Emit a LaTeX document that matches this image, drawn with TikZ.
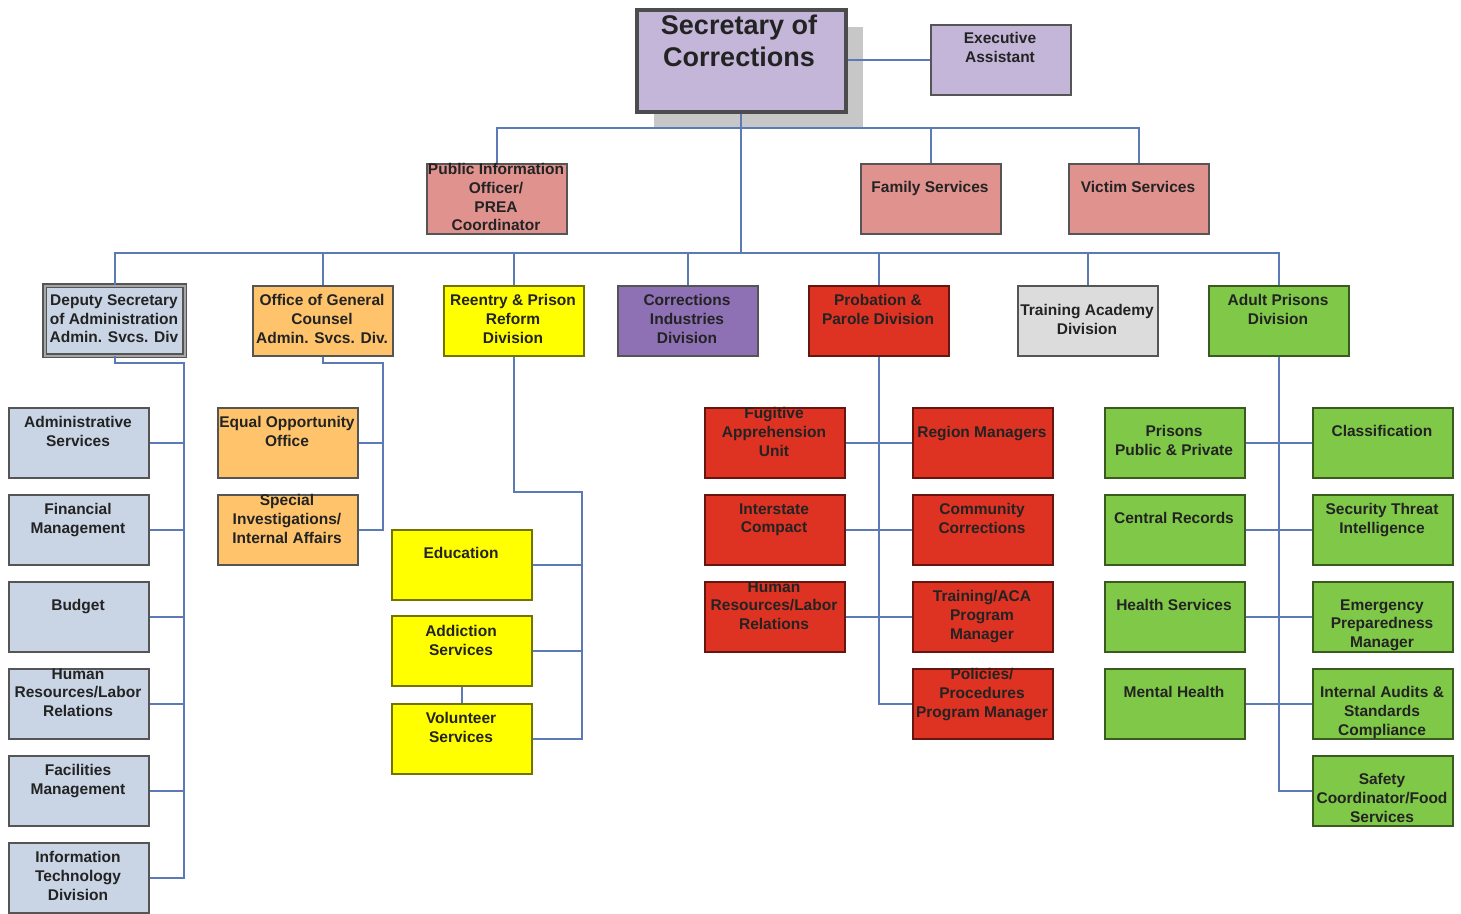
\documentclass[tikz,border=0pt]{standalone}
\usepackage{fontspec}
\setmainfont{Liberation Sans}
\usetikzlibrary{shadows}
\definecolor{lav}{RGB}{196,182,216}
\definecolor{pinkc}{RGB}{224,146,142}
\definecolor{bgray}{RGB}{201,212,228}
\definecolor{orng}{RGB}{255,196,107}
\definecolor{yell}{RGB}{255,255,0}
\definecolor{purp}{RGB}{142,112,180}
\definecolor{redc}{RGB}{222,50,34}
\definecolor{lgray}{RGB}{220,220,220}
\definecolor{grn}{RGB}{128,200,72}
\definecolor{linec}{RGB}{92,122,182}
\definecolor{bordc}{RGB}{85,85,85}
\definecolor{txtc}{RGB}{35,35,35}
\tikzset{
  box/.style={draw=bordc, line width=1.8, minimum width=140, minimum height=70, inner sep=0, anchor=north west},
  lavbox/.style={box, fill=lav},
  pinkbox/.style={box, fill=pinkc},
  bgbox/.style={box, fill=bgray},
  depbox/.style={box, fill=bgray, draw=bordc, line width=1.4, double=gray!70, double distance=2.2},
  orbox/.style={box, fill=orng},
  yebox/.style={box, fill=yell, draw=yell!45!black},
  pubox/.style={box, fill=purp},
  rebox/.style={box, fill=redc, draw=redc!45!black},
  grbox/.style={box, fill=lgray},
  gnbox/.style={box, fill=grn, draw=grn!45!black},
  txt/.style={font=\fontsize{15.5}{18.6}\selectfont\bfseries, align=center, inner sep=0, anchor=north, text=txtc},
  conn/.style={draw=linec, line width=1.8}
}
% name, x, y, style, first line centre y, text
\newcommand\bx[6]{%
  \node[#4] (#1) at (#2,#3) {};
  \node[txt] (#1t) at ({#2+70},{#5-5.5}) {#6};
}
\begin{document}
\begin{tikzpicture}[x=1pt,y=-1pt]
\fill[white] (0,0) rectangle (1461,913);
\useasboundingbox (0,0) rectangle (1461,913);

% top
\node[draw=bordc!90!black, line width=3.5, fill=lav, minimum width=209, minimum height=102, inner sep=0, anchor=north west,
  drop shadow={shadow xshift=17pt, shadow yshift=-17pt, fill=black!22, opacity=1}] (sec) at (635,8) {};
\node[font=\fontsize{27}{32}\selectfont\bfseries, align=center, anchor=north, inner sep=0, text=txtc] (sect) at (739,15) {Secretary of\\Corrections};
\bx{ea}{930}{24}{lavbox}{38}{Executive\\Assistant}
\bx{pio}{426}{163}{pinkbox}{169}{Public Information\\Officer/\\PREA\\Coordinator}
\bx{fam}{860}{163}{pinkbox}{187}{Family Services}
\bx{vic}{1068}{163}{pinkbox}{187}{Victim Services}

% level 2
\bx{dep}{44}{285}{depbox}{300}{Deputy Secretary\\of Administration\\Admin. Svcs. Div}
\bx{ogc}{252}{285}{orbox}{300}{Office of General\\Counsel\\Admin. Svcs. Div.}
\bx{ree}{443}{285}{yebox}{300}{Reentry \& Prison\\Reform\\Division}
\bx{cid}{617}{285}{pubox}{300}{Corrections\\Industries\\Division}
\bx{pp}{808}{285}{rebox}{300}{Probation \&\\Parole Division}
\bx{tad}{1017}{285}{grbox}{310}{Training Academy\\Division}
\bx{apd}{1208}{285}{gnbox}{300}{Adult Prisons\\Division}

% admin column
\bx{as}{8}{407}{bgbox}{422}{Administrative\\Services}
\bx{fm}{8}{494}{bgbox}{509}{Financial\\Management}
\bx{bud}{8}{581}{bgbox}{605}{Budget}
\bx{hr}{8}{668}{bgbox}{674}{Human\\Resources/Labor\\Relations}
\bx{fac}{8}{755}{bgbox}{770}{Facilities\\Management}
\bx{it}{8}{842}{bgbox}{857}{Information\\Technology\\Division}

% general counsel column
\bx{eeo}{217}{407}{orbox}{422}{Equal Opportunity\\Office}
\bx{sii}{217}{494}{orbox}{500}{Special\\Investigations/\\Internal Affairs}

% reentry column
\bx{edu}{391}{529}{yebox}{553}{Education}
\bx{add}{391}{615}{yebox}{631}{Addiction\\Services}
\bx{vol}{391}{703}{yebox}{718}{Volunteer\\Services}

% probation
\bx{fug}{704}{407}{rebox}{413}{Fugitive\\Apprehension\\Unit}
\bx{isc}{704}{494}{rebox}{509}{Interstate\\Compact}
\bx{phr}{704}{581}{rebox}{587}{Human\\Resources/Labor\\Relations}
\bx{reg}{912}{407}{rebox}{432}{Region Managers}
\bx{cc}{912}{494}{rebox}{509}{Community\\Corrections}
\bx{aca}{912}{581}{rebox}{596}{Training/ACA\\Program\\Manager}
\bx{pol}{912}{668}{rebox}{674}{Policies/\\Procedures\\Program Manager}

% adult prisons
\bx{pri}{1104}{407}{gnbox}{431}{Prisons\\Public \& Private}
\bx{crec}{1104}{494}{gnbox}{518}{Central Records}
\bx{hs}{1104}{581}{gnbox}{605}{Health Services}
\bx{mh}{1104}{668}{gnbox}{692}{Mental Health}
\bx{cls}{1312}{407}{gnbox}{431}{Classification}
\bx{sti}{1312}{494}{gnbox}{509}{Security Threat\\Intelligence}
\bx{epm}{1312}{581}{gnbox}{605}{Emergency\\Preparedness\\Manager}
\bx{iad}{1312}{668}{gnbox}{692}{Internal Audits \&\\Standards\\Compliance}
\bx{saf}{1312}{755}{gnbox}{779}{Safety\\Coordinator/Food\\Services}

% connectors
\coordinate (b1) at (sec.south |- 0,128);
\coordinate (b2) at (sec.south |- 0,253);
\draw[conn] (ea.west) -- (ea.west -| sec.east);
\draw[conn] (sec.south) -- (b2);
\draw[conn] (pio.north) |- (b1) -| (vic.north);
\draw[conn] (fam.north) -- (fam.north |- b1);
\draw[conn] (dep.north) |- (b2) -| (apd.north);
\foreach \n in {ogc,ree,cid,pp,tad} \draw[conn] (\n.north) -- (\n.north |- b2);

\coordinate (dj) at (184,363);
\draw[conn] (dep.south) |- (dj) -- (dj |- it.east) -- (it.east);
\foreach \n in {as,fm,bud,hr,fac} \draw[conn] (\n.east) -- (\n.east -| dj);

\coordinate (oj) at (383,363);
\draw[conn] (ogc.south) |- (oj) -- (oj |- sii.east) -- (sii.east);
\draw[conn] (eeo.east) -- (eeo.east -| oj);

\coordinate (rj) at (582,492);
\draw[conn] (ree.south) |- (rj) -- (rj |- vol.east) -- (vol.east);
\foreach \n in {edu,add} \draw[conn] (\n.east) -- (\n.east -| rj);
\draw[conn] (add.south) -- (vol.north);

\draw[conn] (pp.south) |- (pol.west);
\draw[conn] (fug.east) -- (reg.west);
\draw[conn] (isc.east) -- (cc.west);
\draw[conn] (phr.east) -- (aca.west);

\draw[conn] (apd.south) |- (saf.west);
\draw[conn] (pri.east) -- (cls.west);
\draw[conn] (crec.east) -- (sti.west);
\draw[conn] (hs.east) -- (epm.west);
\draw[conn] (mh.east) -- (iad.west);
\end{tikzpicture}
\end{document}
